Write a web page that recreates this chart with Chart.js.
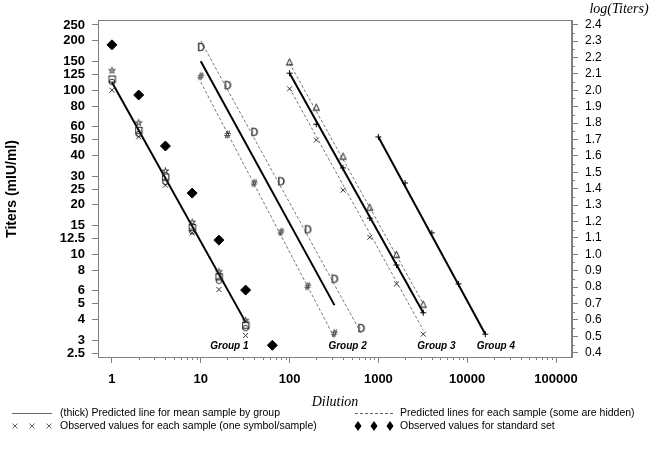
<!DOCTYPE html>
<html>
<head>
<meta charset="utf-8">
<script src="https://cdn.jsdelivr.net/npm/chart.js@4.4.1/dist/chart.umd.min.js"></script>
<style>
  html, body { margin: 0; padding: 0; background: #fff; }
</style>
</head>
<body>
<canvas id="myChart" width="664" height="450"></canvas>
<script>
// ---- data ----
var stdDil = [1, 2, 4, 8, 16, 32, 64];
var stdVal = [189, 93.5, 45.7, 23.6, 12.2, 6.05, 2.79];

var g1Dil = [1, 2, 4, 8, 16, 32];
var g1Star = [131, 63, 32, 15.6, 7.8, 3.93];
var g1Square = [117, 57, 29.6, 14.6, 7.3, 3.7];
var g1Circle = [114, 55, 28, 14, 7, 3.6];
var g1Cross = [100, 52, 26.4, 13.5, 6.1, 3.2];

var g2Dil = [10, 20, 40, 80, 160, 320, 640];
var g2D = [181, 106, 55, 27.5, 14, 7, 3.5];
var g2Hash = [120, 53, 26.8, 13.5, 6.3, 3.26];

var g3Dil = [100, 200, 400, 800, 1600, 3200];
var g3Tri = [149, 79, 39.7, 19.4, 10.0, 4.97];
var g3Plus = [127, 62, 33.6, 16.6, 8.6, 4.4];
var g3Cross = [102, 49.7, 24.6, 12.7, 6.6, 3.26];

var g4Dil = [1000, 2000, 4000, 8000, 16000];
var g4Plus = [51.9, 27.2, 13.5, 6.6, 3.26];

// thick predicted lines (mean sample per group), end points
var mean1Dil = [1, 32],      mean1 = [112, 3.86];
var mean2Dil = [10, 320],    mean2 = [150, 4.9];
var mean3Dil = [100, 3200],  mean3 = [127, 4.4];
var mean4Dil = [1000, 16000], mean4 = [51.9, 3.26];

// dashed predicted lines for single samples
var pD2Dil = [10, 640],    pD2 = [200, 3.3];
var pH2Dil = [10, 320],    pH2 = [112, 3.1];
var pT3Dil = [100, 3200],  pT3 = [146, 5.0];
var pX3Dil = [100, 3200],  pX3 = [103, 3.45];

var groupNames = ['Group 1', 'Group 2', 'Group 3', 'Group 4'];
var groupLabelAt = [[21, 2.75], [450, 2.75], [4500, 2.75], [21000, 2.75]];

var xTicks = [1, 10, 100, 1000, 10000, 100000];
var yTicks = [2.5, 3, 4, 5, 6, 8, 10, 12.5, 15, 20, 25, 30, 40, 50, 60, 80, 100, 125, 150, 200, 250];
var y2Ticks = [0.4, 0.5, 0.6, 0.7, 0.8, 0.9, 1.0, 1.1, 1.2, 1.3, 1.4, 1.5, 1.6, 1.7, 1.8, 1.9, 2.0, 2.1, 2.2, 2.3, 2.4];

var logMin = 0.374, logMax = 2.428;
var axisGray = '#808080';

function pts(xs, ys) {
    return ys.map(function (y, i) { return { x: xs[i], y: y }; });
}

// little canvases used as point symbols
function glyph(ch, px, color) {
    var c = document.createElement('canvas');
    c.width = px + 4; c.height = px + 4;
    var g = c.getContext('2d');
    g.fillStyle = color;
    g.strokeStyle = color;
    g.lineWidth = 0.4;
    g.font = px + 'px "DejaVu Sans"';
    g.textAlign = 'center';
    g.textBaseline = 'middle';
    g.fillText(ch, c.width / 2, c.height / 2 + 0.5);
    g.strokeText(ch, c.width / 2, c.height / 2 + 0.5);
    return c;
}

function obs(label, xs, ys, style, extra) {
    var ds = {
        type: 'scatter', label: label, data: pts(xs, ys),
        pointStyle: style, pointRadius: 4, showLine: false,
        borderColor: '#333', backgroundColor: '#333', pointBorderWidth: 1
    };
    return Object.assign(ds, extra || {});
}

function line(label, xs, ys, dashed) {
    return {
        type: 'scatter', label: label, data: pts(xs, ys), showLine: true,
        pointRadius: 0, borderColor: dashed ? '#777' : '#000',
        borderWidth: dashed ? 1 : 2, borderDash: dashed ? [3, 2] : []
    };
}

var extras = {
    id: 'extras',
    afterDraw: function (chart) {
        var ctx = chart.ctx, a = chart.chartArea;
        var xs = chart.scales.x, ys2 = chart.scales.y2, ys = chart.scales.y;
        ctx.save();
        ctx.strokeStyle = axisGray;
        ctx.lineWidth = 1;
        ctx.strokeRect(a.left + 0.5, a.top + 0.5, a.right - a.left - 1, a.bottom - a.top);

        // minor ticks
        ctx.beginPath();
        for (var k = 0; k < 6; k++) {
            for (var m = 2; m < 10; m++) {
                var v = m * Math.pow(10, k);
                var p = Math.round(xs.getPixelForValue(v)) + 0.5;
                if (p > a.right) continue;
                ctx.moveTo(p, a.bottom); ctx.lineTo(p, a.bottom + 3);
            }
        }
        for (var t = 0.45; t < 2.4; t += 0.1) {
            var q = Math.round(ys2.getPixelForValue(t)) + 0.5;
            ctx.moveTo(a.right, q); ctx.lineTo(a.right + 3, q);
        }
        ctx.stroke();

        // group labels
        ctx.fillStyle = '#000';
        ctx.font = 'italic bold 10px "Liberation Sans"';
        ctx.textAlign = 'center';
        ctx.textBaseline = 'middle';
        groupNames.forEach(function (n, i) {
            ctx.fillText(n, xs.getPixelForValue(groupLabelAt[i][0]), ys.getPixelForValue(groupLabelAt[i][1]));
        });

        // axis titles
        ctx.font = 'italic 14px "Liberation Serif"';
        ctx.fillText('Dilution', 335, 402);
        ctx.fillText('log(Titers)', 619, 9);
        ctx.save();
        ctx.translate(12, 189);
        ctx.rotate(-Math.PI / 2);
        ctx.font = 'bold 14px "Liberation Sans"';
        ctx.fillText('Titers (mIU/ml)', 0, 0);
        ctx.restore();

        // legend
        ctx.font = '10.5px "Liberation Sans"';
        ctx.textAlign = 'left';
        ctx.strokeStyle = '#666';
        ctx.beginPath(); ctx.moveTo(12, 413.5); ctx.lineTo(52, 413.5); ctx.stroke();
        ctx.setLineDash([3, 2]);
        ctx.beginPath(); ctx.moveTo(355, 413.5); ctx.lineTo(393, 413.5); ctx.stroke();
        ctx.setLineDash([]);
        ctx.fillText('(thick) Predicted line for mean sample by group', 60, 413);
        ctx.fillText('Predicted lines for each sample (some are hidden)', 400, 413);
        ctx.fillText('Observed values for each sample (one symbol/sample)', 60, 426);
        ctx.fillText('Observed values for standard set', 400, 426);
        [15, 32, 49].forEach(function (cx) {
            ctx.beginPath();
            ctx.moveTo(cx - 2.5, 423.5); ctx.lineTo(cx + 2.5, 428.5);
            ctx.moveTo(cx + 2.5, 423.5); ctx.lineTo(cx - 2.5, 428.5);
            ctx.stroke();
        });
        ctx.fillStyle = '#000';
        [358, 374, 390].forEach(function (cx) {
            ctx.beginPath();
            ctx.moveTo(cx, 421); ctx.lineTo(cx + 3.5, 426); ctx.lineTo(cx, 431); ctx.lineTo(cx - 3.5, 426);
            ctx.closePath(); ctx.fill();
        });
        ctx.restore();
    }
};

var ctx = document.getElementById('myChart').getContext('2d');

var chart = new Chart(ctx, {
    data: {
        datasets: [
            obs('Standard', stdDil, stdVal, 'rectRot', { pointRadius: 5, borderColor: '#000', backgroundColor: '#000' }),
            obs('G1 star', g1Dil, g1Star, glyph('\u2606', 9, '#222')),
            obs('G1 square', g1Dil, g1Square, glyph('\u25A1', 9, '#222')),
            obs('G1 circle', g1Dil, g1Circle, glyph('\u25CB', 8, '#222')),
            obs('G1 cross', g1Dil, g1Cross, 'crossRot', { pointRadius: 3.5 }),
            obs('G2 D', g2Dil, g2D, glyph('D', 10, '#333')),
            obs('G2 hash', g2Dil, g2Hash, glyph('#', 9, '#333')),
            obs('G3 tri', g3Dil, g3Tri, glyph('\u25B3', 9, '#222')),
            obs('G3 plus', g3Dil, g3Plus, 'cross', { pointRadius: 3, borderColor: '#000' }),
            obs('G3 cross', g3Dil, g3Cross, 'crossRot', { pointRadius: 3.5 }),
            obs('G4 plus', g4Dil, g4Plus, 'cross', { pointRadius: 3, borderColor: '#000' }),
            line('mean 1', mean1Dil, mean1, false),
            line('mean 2', mean2Dil, mean2, false),
            line('mean 3', mean3Dil, mean3, false),
            line('mean 4', mean4Dil, mean4, false),
            line('D line', pD2Dil, pD2, true),
            line('# line', pH2Dil, pH2, true),
            line('tri line', pT3Dil, pT3, true),
            line('x line', pX3Dil, pX3, true)
        ]
    },
    options: {
        responsive: false,
        animation: false,
        layout: { padding: { top: 20, left: 0, right: 0, bottom: 0 } },
        plugins: { legend: { display: false }, tooltip: { enabled: false } },
        scales: {
            x: {
                type: 'logarithmic',
                min: Math.pow(10, -0.157),
                max: Math.pow(10, 5.18),
                afterBuildTicks: function (s) { s.ticks = xTicks.map(function (v) { return { value: v }; }); },
                afterFit: function (s) { s.height = 93; },
                ticks: {
                    color: '#000', padding: 9, maxRotation: 0, autoSkip: false,
                    font: { family: 'Liberation Sans', size: 13, weight: 'bold' },
                    callback: function (v) { return String(v); }
                },
                grid: { drawOnChartArea: false, tickLength: 6, color: axisGray },
                border: { color: axisGray }
            },
            y: {
                type: 'logarithmic',
                position: 'left',
                min: Math.pow(10, logMin),
                max: Math.pow(10, logMax),
                afterBuildTicks: function (s) { s.ticks = yTicks.map(function (v) { return { value: v }; }); },
                afterFit: function (s) { s.width = 98; },
                ticks: {
                    color: '#000', padding: 7, autoSkip: false,
                    font: { family: 'Liberation Sans', size: 13, weight: 'bold' },
                    callback: function (v) { return String(v); }
                },
                grid: { drawOnChartArea: false, tickLength: 6, color: axisGray },
                border: { color: axisGray }
            },
            y2: {
                type: 'linear',
                position: 'right',
                min: logMin,
                max: logMax,
                afterBuildTicks: function (s) { s.ticks = y2Ticks.map(function (v) { return { value: v }; }); },
                afterFit: function (s) { s.width = 92; },
                ticks: {
                    color: '#000', padding: 7, autoSkip: false,
                    font: { family: 'Liberation Sans', size: 12 },
                    callback: function (v) { return v.toFixed(1); }
                },
                grid: { drawOnChartArea: false, tickLength: 6, color: axisGray },
                border: { color: axisGray }
            }
        }
    },
    plugins: [extras]
});
</script>
</body>
</html>
